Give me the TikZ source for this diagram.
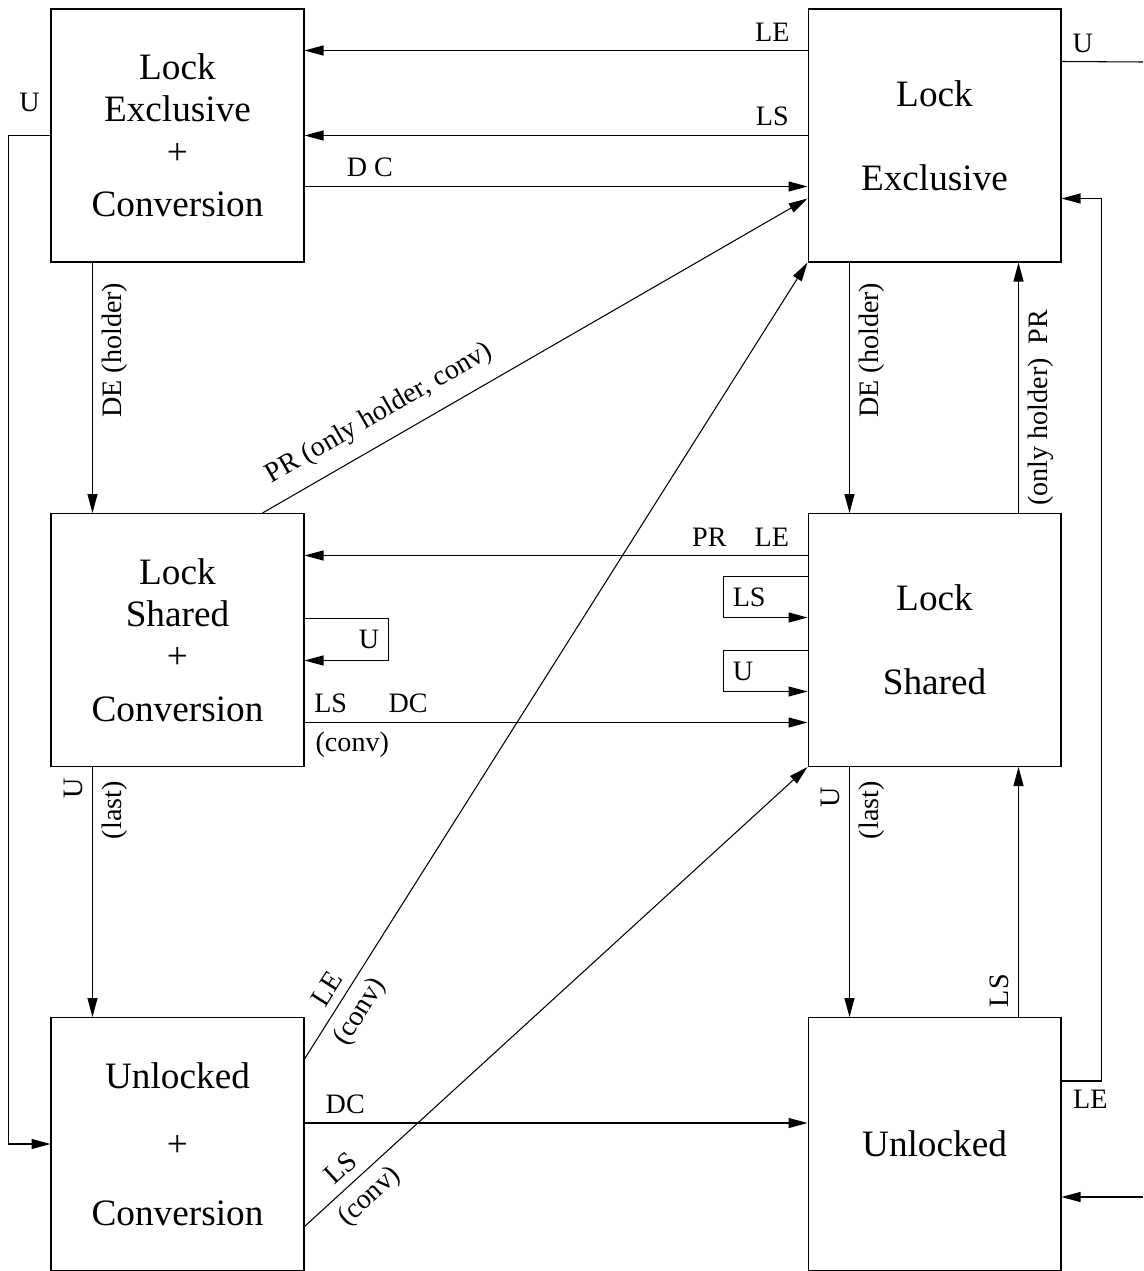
\documentclass[tikz,border=0pt]{standalone}
\usepackage{fontspec}
\setmainfont{Liberation Serif}
\usetikzlibrary{calc,arrows.meta}

\begin{document}
\begin{tikzpicture}[x=0.02cm, y=-0.02cm, line width=0.6pt,
    lockbox/.style={draw, minimum width=5.06cm, minimum height=5.06cm, inner sep=0pt,
      align=center, font=\fontsize{21.2}{24}\selectfont},
    lab/.style={font=\fontsize{16}{18}\selectfont, inner sep=5pt},
    arr/.style={-{Triangle[length=0.38cm,width=0.2cm]}}]
  \useasboundingbox (0,0) rectangle (1143,1271);

  \node[lockbox] (lec) at (177.5,135.5) {Lock\\Exclusive\\+\\[6pt]Conversion};
  \node[lockbox] (le)  at (934.5,135.5) {Lock\\[24pt]Exclusive};
  \node[lockbox] (lsc) at (177.5,640)   {Lock\\Shared\\+\\[6pt]Conversion};
  \node[lockbox] (ls)  at (934.5,640)   {Lock\\[24pt]Shared};
  \node[lockbox] (uc)  at (177.5,1144)  {Unlocked\\[15pt]+\\[15pt]Conversion};
  \node[lockbox] (u)   at (934.5,1144)  {Unlocked};

  \coordinate (leout) at (1143,62);
  \coordinate (uin) at (1143,1197);

  % top row
  \draw[arr] ($(le.north west)+(0,42)$) -- node[lab, above, pos=0.07] {LE} ($(lec.north east)+(0,42)$);
  \draw[arr] (le.west) -- node[lab, above, pos=0.07] {LS} (lec.east);
  \draw[arr] ($(lec.north east)+(0,178)$) -- node[lab, above, pos=0.13] {D C} ($(le.north west)+(0,178)$);
  \draw ($(le.north east)+(0,53)$) -- node[lab, above, pos=0.26] {U} (leout);
  \draw[arr] (lec.west) -- node[lab, above=8pt] {U} ++(-42,0) |- (uc.west);

  % vertical
  \draw[arr] ($(lec.south west)+(42,0)$) -- node[lab, rotate=90, anchor=north, pos=0.35] {DE (holder)} ($(lsc.north west)+(42,0)$);
  \draw[arr] ($(le.south west)+(42,0)$) -- node[lab, rotate=90, anchor=north, pos=0.35] {DE (holder)} ($(ls.north west)+(42,0)$);
  \draw[arr] ($(ls.north east)+(-43,0)$) -- node[lab, rotate=90, anchor=north, pos=0.42] {(only holder)~~PR} ($(le.south east)+(-43,0)$);
  \draw[arr] ($(lsc.south west)+(42,0)$) -- node[lab, rotate=90, anchor=south, pos=0.086] {U}
    node[lab, rotate=90, anchor=north, pos=0.173] {(last)} ($(uc.north west)+(42,0)$);
  \draw[arr] ($(ls.south west)+(42,0)$) -- node[lab, rotate=90, anchor=south, pos=0.12] {U}
    node[lab, rotate=90, anchor=north, pos=0.173] {(last)} ($(u.north west)+(42,0)$);
  \draw[arr] ($(u.north east)+(-43,0)$) -- node[lab, rotate=90, anchor=south, pos=0.105] {LS} ($(ls.south east)+(-43,0)$);
  \draw[arr] ($(u.north east)+(0,64)$) -- node[lab, below, pos=0.72] {LE} ++(40,0) |- ($(le.south east)+(0,-64)$);

  % middle row
  \draw[arr] ($(lsc.north east)+(-42,0)$) -- node[lab, sloped, above=3pt, pos=0.24] {PR (only holder, conv)} ($(le.south west)+(0,-64)$);
  \draw[arr] ($(ls.north west)+(0,42.5)$) -- node[lab, above, pos=0.133] {PR\quad LE} ($(lsc.north east)+(0,42.5)$);
  \draw[arr] ($(ls.north west)+(0,63.5)$) -- ++(-84,0) -- node[lab, right] {LS} ++(0,41) -- ++(84,0);
  \draw[arr] ($(ls.north west)+(0,137.5)$) -- ++(-84,0) -- node[lab, right] {U} ++(0,41) -- ++(84,0);
  \draw[arr] ($(lsc.north east)+(0,105.5)$) -- ++(84,0) -- node[lab, left] {U} ++(0,42) -- ++(-84,0);
  \draw[arr] ($(lsc.north east)+(0,209.5)$) -- node[lab, above, pos=0.052] {LS}
    node[lab, above, pos=0.206] {DC} node[lab, below, pos=0.095] {(conv)} ($(ls.north west)+(0,209.5)$);

  % bottom row
  \draw[arr] ($(uc.north east)+(0,42)$) -- node[lab, sloped, above, pos=0.076] {LE}
    node[lab, sloped, below, pos=0.074] {(conv)} (le.south west);
  \draw[arr] ($(uc.north east)+(0,106)$) -- node[lab, above, pos=0.081] {DC} ($(u.north west)+(0,106)$);
  \draw[arr] ($(uc.north east)+(0,209.5)$) -- node[lab, sloped, above, pos=0.097] {LS}
    node[lab, sloped, below, pos=0.1] {(conv)} (ls.south west);
  \draw[arr] (uin) -- (u.east |- uin);
\end{tikzpicture}
\end{document}
